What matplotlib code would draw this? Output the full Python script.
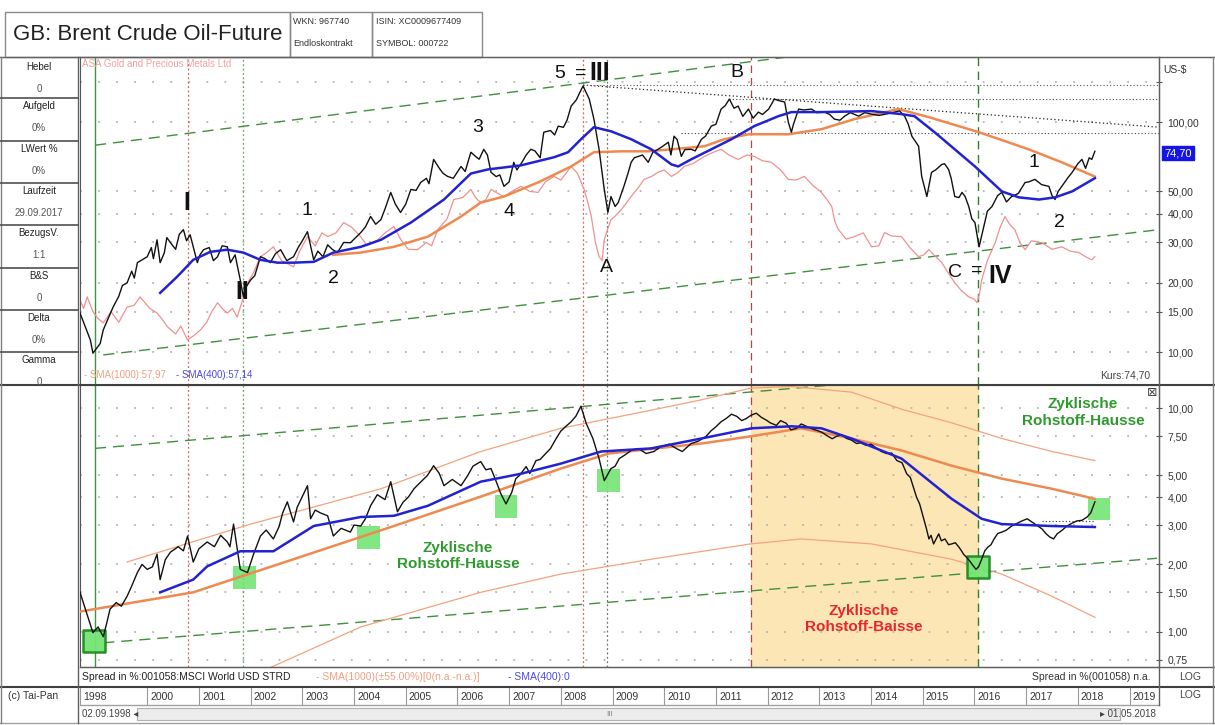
import matplotlib
matplotlib.use("Agg")
import matplotlib.pyplot as plt
from matplotlib.lines import Line2D
from matplotlib.patches import Rectangle
from matplotlib.ticker import NullLocator

plt.rcParams['font.family'] = ['Liberation Sans', 'DejaVu Sans']

# ---------------- data (decimal years) ----------------
# Brent, US-$ (main turning points)
brent_t = [1998.70, 1998.90, 1998.95, 1999.09, 1999.15, 1999.34, 1999.61, 1999.81, 2000.00, 2000.19,
           2000.25, 2000.45, 2000.70, 2000.83, 2000.97, 2001.09, 2001.36, 2001.55, 2001.61, 2001.80,
           2001.86, 2002.00, 2002.19, 2002.38, 2002.58, 2002.83, 2003.10, 2003.22, 2003.49, 2003.68,
           2003.93, 2004.13, 2004.32, 2004.52, 2004.71, 2004.90, 2005.10, 2005.29, 2005.54, 2005.81,
           2006.07, 2006.26, 2006.51, 2006.65, 2006.90, 2007.09, 2007.42, 2007.67, 2007.95, 2008.20,
           2008.43, 2008.55, 2008.64, 2008.74, 2008.84, 2008.91, 2008.97, 2009.11, 2009.22, 2009.36,
           2009.50, 2009.69, 2009.88, 2010.08, 2010.19, 2010.33, 2010.52, 2010.72, 2010.91, 2011.10,
           2011.26, 2011.43, 2011.63, 2011.82, 2012.02, 2012.13, 2012.33, 2012.46, 2012.60, 2012.85,
           2013.10, 2013.29, 2013.49, 2013.76, 2014.01, 2014.46, 2014.65, 2014.79, 2014.92, 2014.98,
           2015.08, 2015.17, 2015.37, 2015.50, 2015.62, 2015.76, 2015.89, 2016.01, 2016.09, 2016.20,
           2016.34, 2016.53, 2016.72, 2016.98, 2017.17, 2017.44, 2017.56, 2017.69, 2017.89, 2018.08,
           2018.27, 2018.33]
brent_v = [14.8, 11.3, 9.9, 10.9, 12.5, 15.7, 20.0, 24.5, 26.0, 30.8,
           24.5, 29.9, 34.1, 32.4, 24.5, 27.9, 26.0, 28.7, 24.5, 20.6,
           17.4, 20.6, 26.0, 24.5, 27.9, 26.0, 33.4, 25.2, 29.3, 27.1,
           29.9, 33.1, 38.9, 37.7, 49.5, 40.5, 51.0, 54.7, 68.9, 58.1,
           64.2, 74.0, 76.2, 60.5, 52.6, 66.9, 76.2, 90.4, 96.1, 117.5,
           143.6, 126.0, 103.1, 76.2, 51.0, 40.5, 47.5, 44.7, 52.6, 66.9,
           71.0, 66.9, 76.2, 81.8, 86.9, 71.0, 76.2, 84.3, 96.1, 114.0,
           126.0, 117.5, 114.0, 110.6, 114.0, 126.0, 122.3, 90.4, 114.0, 114.0,
           110.6, 103.1, 106.2, 106.2, 108.4, 110.6, 106.2, 86.9, 78.6, 58.1,
           47.5, 60.5, 65.5, 62.3, 47.5, 49.5, 43.0, 36.6, 28.7, 36.6,
           43.0, 49.5, 47.5, 54.7, 56.4, 52.6, 46.1, 52.6, 60.5, 68.9,
           68.9, 74.7]
# Brent, intermediate swings
brent_t2 = [1999.45, 1999.52, 1999.70, 1999.75, 2000.08, 2000.12, 2000.33, 2000.38, 2000.55, 2000.62,
            2000.76, 2001.02, 2001.20, 2001.28, 2001.45, 2001.70, 2001.90, 2002.08, 2002.28, 2002.48,
            2002.70, 2002.92, 2003.00, 2003.30, 2003.40, 2003.58, 2003.80, 2004.00, 2004.22, 2004.42,
            2004.60, 2004.80, 2005.00, 2005.20, 2005.40, 2005.45, 2005.65, 2005.72, 2005.92, 2006.15,
            2006.35, 2006.42, 2006.58, 2006.75, 2006.82, 2007.00, 2007.15, 2007.25, 2007.33, 2007.50,
            2007.60, 2007.80, 2007.88, 2008.05, 2008.12, 2008.30, 2008.37, 2009.05, 2009.30, 2009.42,
            2009.58, 2009.78, 2009.95, 2010.13, 2010.25, 2010.40, 2010.60, 2010.80, 2011.00, 2011.18,
            2011.35, 2011.52, 2011.72, 2011.90, 2012.22, 2012.40, 2012.50, 2012.70, 2012.95, 2013.20,
            2013.40, 2013.60, 2013.88, 2014.15, 2014.30, 2014.55, 2014.72, 2015.25, 2015.42, 2015.55,
            2015.70, 2015.82, 2015.95, 2016.25, 2016.45, 2016.62, 2016.85, 2017.05, 2017.30, 2017.50,
            2017.62, 2017.80, 2018.00, 2018.15, 2018.22]
brent_v2 = [17.5, 19.5, 22.5, 21.0, 28.5, 25.5, 27.0, 31.5, 28.0, 32.5,
            30.5, 26.5, 28.5, 25.0, 29.0, 26.5, 19.0, 21.5, 25.5, 26.8,
            25.0, 28.5, 30.5, 27.5, 26.0, 28.0, 30.0, 31.0, 35.0, 36.0,
            42.0, 44.0, 44.0, 50.5, 57.0, 54.0, 63.0, 60.0, 57.0, 61.0,
            71.0, 69.0, 72.0, 58.0, 59.0, 55.0, 62.0, 67.0, 72.0, 75.0,
            70.0, 92.0, 88.0, 95.0, 102.0, 125.0, 135.0, 43.0, 60.0, 70.0,
            72.0, 74.0, 78.0, 72.0, 84.0, 76.0, 75.0, 87.0, 98.0, 118.0,
            115.0, 106.0, 104.0, 108.0, 124.0, 100.0, 98.0, 113.0, 110.0, 108.0,
            102.0, 110.0, 110.0, 107.0, 108.5, 112.0, 98.0, 62.0, 66.0, 57.0,
            47.0, 47.5, 38.0, 41.0, 48.0, 45.0, 49.0, 55.0, 53.5, 48.0,
            50.0, 57.0, 66.0, 63.0, 70.0]

# ASA Gold and Precious Metals (comparison line)
asa_t = [1998.70, 1998.84, 1999.15, 1999.61, 1999.86, 2000.19, 2000.39, 2000.78, 2001.03, 2001.36,
         2001.55, 2001.74, 2001.94, 2002.19, 2002.44, 2002.83, 2003.10, 2003.49, 2003.80, 2004.13,
         2004.46, 2004.77, 2005.23, 2005.62, 2005.93, 2006.26, 2006.45, 2006.65, 2006.90, 2007.23,
         2007.56, 2007.87, 2008.20, 2008.45, 2008.59, 2008.74, 2008.84, 2008.97, 2009.17, 2009.36,
         2009.61, 2009.88, 2010.14, 2010.39, 2010.78, 2011.10, 2011.43, 2011.74, 2012.07, 2012.40,
         2012.71, 2013.04, 2013.24, 2013.37, 2013.68, 2014.01, 2014.26, 2014.59, 2014.92, 2015.12,
         2015.37, 2015.62, 2015.89, 2016.05, 2016.14, 2016.40, 2016.59, 2016.78, 2016.98, 2017.31,
         2017.69, 2018.02, 2018.27, 2018.33]
asa_v = [16.9, 17.4, 13.4, 15.7, 17.4, 14.8, 12.9, 11.3, 12.5, 16.4,
         14.8, 14.2, 20.0, 26.0, 28.7, 23.5, 31.8, 31.8, 36.6, 31.8,
         30.8, 35.2, 27.9, 34.1, 46.1, 51.0, 44.7, 51.0, 47.5, 52.6,
         49.5, 58.1, 64.2, 51.0, 38.9, 26.0, 30.8, 37.7, 41.7, 47.5,
         56.4, 60.5, 58.1, 64.2, 71.0, 76.2, 68.9, 71.0, 66.9, 56.4,
         58.1, 49.5, 43.0, 34.1, 31.8, 28.7, 33.1, 31.8, 26.0, 27.9,
         24.5, 20.0, 17.4, 16.4, 20.6, 29.9, 38.9, 34.1, 27.9, 29.9,
         28.7, 27.1, 25.2, 26.0]
asa_t2 = [1998.77, 1998.95, 1999.05, 1999.30, 1999.45, 1999.75, 2000.05, 2000.28, 2000.55, 2000.65,
          2000.90, 2001.15, 2001.25, 2001.45, 2001.65, 2001.85, 2002.05, 2002.30, 2002.60, 2002.95,
          2003.25, 2003.38, 2003.65, 2003.95, 2004.25, 2004.60, 2004.90, 2005.05, 2005.40, 2005.50,
          2005.80, 2006.10, 2006.35, 2006.55, 2006.78, 2007.05, 2007.40, 2007.70, 2008.00, 2008.32,
          2008.52, 2008.67, 2008.80, 2008.90, 2009.05, 2009.25, 2009.50, 2009.75, 2010.00, 2010.25,
          2010.55, 2010.95, 2011.25, 2011.60, 2011.90, 2012.25, 2012.55, 2012.88, 2013.15, 2013.30,
          2013.52, 2013.85, 2014.15, 2014.40, 2014.75, 2015.02, 2015.25, 2015.50, 2015.75, 2016.00,
          2016.10, 2016.25, 2016.50, 2016.68, 2016.88, 2017.10, 2017.50, 2017.85, 2018.15]
asa_v2 = [15.5, 15.0, 14.0, 15.0, 13.5, 16.0, 15.5, 14.0, 12.0, 13.0,
          11.8, 13.5, 15.0, 15.5, 15.5, 17.0, 22.0, 27.0, 25.0, 27.5,
          29.0, 33.0, 33.0, 35.0, 29.0, 33.0, 31.0, 28.0, 30.0, 29.0,
          38.0, 47.0, 47.0, 46.0, 49.0, 50.0, 50.0, 55.0, 56.0, 60.0,
          45.0, 30.0, 25.0, 34.0, 39.0, 44.0, 52.0, 58.0, 62.0, 60.0,
          66.0, 74.0, 72.0, 72.0, 68.0, 62.0, 56.0, 53.0, 46.0, 37.0,
          31.0, 33.0, 29.0, 32.0, 28.5, 26.5, 26.0, 22.0, 18.5, 17.0,
          18.0, 25.0, 35.0, 36.0, 30.0, 30.5, 28.0, 27.5, 26.0]

sma400_t = [2000.25, 2000.58, 2000.89, 2001.22, 2001.55, 2001.86, 2002.19, 2002.52, 2002.83, 2003.22,
            2003.60, 2004.13, 2004.52, 2005.10, 2005.74, 2006.26, 2006.59, 2007.23, 2007.87, 2008.14,
            2008.39, 2008.64, 2008.97, 2009.36, 2009.75, 2010.14, 2010.27, 2010.52, 2010.91, 2011.30,
            2011.74, 2012.21, 2012.46, 2013.04, 2014.01, 2014.59, 2014.84, 2015.23, 2015.62, 2016.01,
            2016.28, 2016.53, 2016.86, 2017.25, 2017.56, 2017.89, 2018.33]
sma400_v = [18.1, 21.3, 25.2, 27.3, 27.9, 27.1, 25.2, 24.5, 24.5, 24.7,
            27.1, 28.7, 30.8, 36.6, 46.1, 59.8, 62.3, 64.9, 70.4, 74.0,
            84.3, 95.1, 91.3, 84.3, 76.2, 65.5, 64.2, 68.9, 76.2, 84.3,
            96.1, 106.2, 110.6, 110.6, 111.7, 108.4, 106.2, 90.4, 76.2, 64.2,
            56.4, 50.0, 47.1, 46.1, 47.1, 50.0, 57.1]

sma1000_t = [2003.60, 2004.13, 2004.77, 2005.43, 2006.07, 2006.45, 2006.90, 2007.56, 2008.20, 2008.64,
             2009.17, 2009.69, 2010.14, 2010.78, 2011.16, 2011.63, 2012.40, 2013.04, 2013.68, 2014.53,
             2015.12, 2016.09, 2017.05, 2017.69, 2018.33]
sma1000_v = [26.5, 27.1, 28.7, 31.8, 38.9, 44.7, 47.5, 54.7, 64.2, 74.0,
             74.7, 74.7, 76.2, 78.6, 84.3, 88.6, 88.6, 93.2, 103.1, 114.0,
             105.1, 90.4, 76.2, 66.9, 58.0]

# Spread in % vs. MSCI World (lower panel)
spread_t = [1998.70, 1998.95, 1999.15, 1999.28, 1999.61, 1999.81, 2000.00, 2000.19, 2000.25, 2000.45,
            2000.78, 2000.89, 2001.16, 2001.55, 2001.67, 2001.80, 2001.94, 2002.19, 2002.44, 2002.71,
            2002.83, 2003.10, 2003.16, 2003.49, 2003.60, 2003.93, 2004.13, 2004.32, 2004.71, 2004.84,
            2005.16, 2005.54, 2005.74, 2006.07, 2006.45, 2006.65, 2006.84, 2006.94, 2007.13, 2007.33,
            2007.52, 2007.71, 2007.91, 2008.10, 2008.29, 2008.39, 2008.49, 2008.62, 2008.74, 2008.84,
            2008.97, 2009.13, 2009.36, 2009.65, 2009.94, 2010.23, 2010.52, 2010.81, 2011.01, 2011.20,
            2011.40, 2011.59, 2011.78, 2011.98, 2012.17, 2012.36, 2012.56, 2012.75, 2012.95, 2013.14,
            2013.33, 2013.53, 2013.72, 2013.91, 2014.11, 2014.30, 2014.50, 2014.69, 2014.83, 2014.94,
            2015.02, 2015.12, 2015.21, 2015.31, 2015.43, 2015.56, 2015.70, 2015.79, 2015.91, 2016.03,
            2016.14, 2016.26, 2016.38, 2016.53, 2016.72, 2016.92, 2017.11, 2017.31, 2017.46, 2017.60,
            2017.79, 2017.98, 2018.18, 2018.33]
spread_v = [1.50, 0.99, 0.95, 1.26, 1.44, 1.84, 1.90, 2.22, 1.71, 2.27,
            2.68, 2.05, 2.52, 2.52, 3.03, 1.90, 1.84, 2.68, 2.60, 3.81,
            3.10, 4.50, 3.20, 3.30, 2.68, 2.79, 2.97, 3.66, 4.69, 3.44,
            4.36, 5.53, 4.50, 4.50, 5.77, 5.37, 4.14, 3.73, 4.84, 5.48,
            5.83, 6.27, 7.32, 8.30, 9.20, 10.2, 8.56, 7.32, 5.95, 4.74,
            5.37, 5.95, 6.47, 6.27, 6.74, 6.61, 6.95, 7.48, 8.30, 9.00,
            9.20, 9.00, 9.50, 8.83, 8.38, 8.56, 8.13, 8.30, 7.96, 7.55,
            7.48, 7.32, 6.95, 6.81, 6.61, 6.27, 5.83, 5.09, 4.36, 3.73,
            3.20, 2.60, 2.47, 2.74, 2.60, 2.47, 2.39, 2.22, 2.07, 1.90,
            2.11, 2.39, 2.60, 2.79, 2.97, 3.13, 3.10, 2.88, 2.65, 2.74,
            2.97, 3.13, 3.26, 3.81]
spread_t2 = [1999.05, 1999.22, 1999.40, 1999.50, 1999.70, 1999.90, 2000.10, 2000.35, 2000.60, 2000.70,
             2001.00, 2001.30, 2001.42, 2001.60, 2002.05, 2002.30, 2002.55, 2002.62, 2002.90, 2003.25,
             2003.35, 2003.75, 2004.00, 2004.22, 2004.45, 2004.60, 2004.95, 2005.05, 2005.30, 2005.42,
             2005.65, 2005.90, 2006.20, 2006.30, 2006.55, 2006.75, 2007.05, 2007.20, 2007.40, 2007.60,
             2007.80, 2008.00, 2008.20, 2009.05, 2009.25, 2009.50, 2009.80, 2010.10, 2010.35, 2010.65,
             2010.90, 2011.10, 2011.30, 2011.50, 2011.68, 2011.88, 2012.05, 2012.25, 2012.45, 2012.65,
             2012.85, 2013.05, 2013.25, 2013.43, 2013.62, 2013.80, 2014.00, 2014.20, 2014.40, 2014.60,
             2014.76, 2014.88, 2015.07, 2015.16, 2015.26, 2015.36, 2015.50, 2015.63, 2015.75, 2015.85,
             2015.97, 2016.08, 2016.20, 2016.32, 2016.45, 2016.62, 2016.82, 2017.02, 2017.20, 2017.38,
             2017.53, 2017.70, 2017.88, 2018.08, 2018.25]
spread_v2 = [1.05, 1.10, 1.35, 1.30, 1.60, 2.00, 1.95, 2.10, 2.40, 2.30,
             2.35, 2.40, 2.70, 2.40, 2.20, 2.85, 2.95, 3.40, 3.60, 3.50,
             3.40, 2.90, 3.00, 3.20, 4.10, 3.90, 3.80, 4.00, 4.70, 5.00,
             5.10, 4.80, 5.00, 5.50, 5.30, 4.70, 4.20, 5.00, 5.10, 5.90,
             6.60, 7.90, 8.70, 5.50, 6.20, 6.60, 6.40, 6.90, 6.40, 7.10,
             7.90, 8.70, 9.40, 8.80, 9.30, 9.10, 8.60, 8.80, 8.00, 8.50,
             8.10, 7.80, 7.30, 7.60, 7.20, 7.00, 6.90, 6.40, 6.30, 5.70,
             4.90, 4.00, 2.90, 2.70, 2.60, 2.55, 2.45, 2.50, 2.30, 2.15,
             1.98, 1.95, 2.30, 2.45, 2.75, 2.85, 3.05, 3.20, 3.00, 2.75,
             2.60, 2.85, 3.05, 3.15, 3.40]

spr400_t = [2000.25, 2000.89, 2001.16, 2001.80, 2002.44, 2003.22, 2004.13, 2004.77, 2005.43, 2006.45,
            2007.23, 2008.00, 2008.78, 2009.75, 2010.72, 2011.69, 2012.46, 2013.04, 2013.62, 2014.59,
            2015.56, 2016.14, 2016.53, 2017.50, 2018.33]
spr400_v = [1.50, 1.71, 1.96, 2.29, 2.29, 2.97, 3.26, 3.30, 3.66, 4.69,
            5.09, 5.65, 6.40, 6.61, 7.32, 8.13, 8.30, 8.13, 7.32, 5.95,
            3.93, 3.20, 3.03, 2.97, 2.94]

spr1000_t = [1998.70, 2000.89, 2002.83, 2004.77, 2006.45, 2008.00, 2008.93, 2010.72, 2011.67, 2012.65,
             2013.62, 2014.59, 2015.56, 2016.53, 2017.50, 2018.33]
spr1000_v = [1.23, 1.50, 2.11, 2.97, 4.02, 5.37, 6.27, 6.95, 7.48, 8.13,
             7.32, 6.47, 5.53, 4.84, 4.36, 3.93]

band_hi_t = [1999.61, 2002.00, 2004.52, 2006.45, 2008.00, 2009.75, 2010.72, 2011.67, 2012.46, 2013.62,
             2014.59, 2015.56, 2016.53, 2017.50, 2018.33]
band_hi_v = [2.05, 3.03, 4.36, 6.40, 8.13, 9.80, 10.9, 12.3, 12.5, 11.8,
             9.90, 8.60, 7.32, 6.40, 5.83]
band_lo_t = [2002.19, 2004.13, 2006.45, 2008.00, 2009.75, 2011.67, 2012.65, 2014.01, 2015.56, 2016.53,
             2017.50, 2018.33]
band_lo_v = [0.66, 1.05, 1.50, 1.81, 2.11, 2.47, 2.60, 2.47, 2.11, 1.81,
             1.44, 1.16]

# trend channels (two points each)
top_up_t, top_up_v = [1998.99, 2013.00], [79.4, 200.0]
top_lo_t, top_lo_v = [1999.15, 2019.57], [9.73, 34.1]
bot_up_t, bot_up_v = [1998.99, 2013.50], [6.61, 12.85]
bot_lo_t, bot_lo_v = [1999.15, 2019.53], [0.892, 2.13]
res_slope_t, res_slope_v = [2008.43, 2019.57], [145.0, 95.1]
res_peak_t, res_peak_v = [2008.43, 2019.57], [145.0, 145.0]
res_b_t, res_b_v = [2011.26, 2019.57], [126.0, 126.0]
res_c_t, res_c_v = [2010.33, 2019.57], [89.5, 89.5]
spr_flat_t, spr_flat_v = [2017.30, 2018.33], [3.13, 3.13]

# turning points marked with green boxes (lower panel)
box_t = [1998.97, 2001.88, 2004.28, 2006.94, 2008.93, 2016.07, 2018.41]
box_v = [0.911, 1.75, 2.65, 3.62, 4.74, 1.94, 3.54]
box_framed = [True, False, False, False, False, True, False]

event_t = [1998.99, 2000.78, 2001.86, 2008.43, 2008.90, 2011.67, 2016.07]
baisse_span = [2011.67, 2016.07]

year_ticks = [1998.70] + list(range(2000, 2020))
year_labels = ['1998'] + [str(y) for y in range(2000, 2020)]

top_ticks = [10, 15, 20, 30, 40, 50, 100, 150]
top_labels = ['10,00', '15,00', '20,00', '30,00', '40,00', '50,00', '100,00', '']
bot_ticks = [0.75, 1, 1.5, 2, 3, 4, 5, 7.5, 10]
bot_labels = ['0,75', '1,00', '1,50', '2,00', '3,00', '4,00', '5,00', '7,50', '10,00']


def merged(t1, v1, t2, v2):
    pts = sorted(zip(list(t1) + list(t2), list(v1) + list(v2)))
    return [p[0] for p in pts], [p[1] for p in pts]


brent_x, brent_y = merged(brent_t, brent_v, brent_t2, brent_v2)
asa_x, asa_y = merged(asa_t, asa_v, asa_t2, asa_v2)
spread_x, spread_y = merged(spread_t, spread_v, spread_t2, spread_v2)

# ---------------- layout ----------------
W, H = 1215, 725
fig = plt.figure(figsize=(W / 100, H / 100), dpi=100)


def rect(x0, y0, x1, y1):
    return [x0 / W, 1 - y1 / H, (x1 - x0) / W, (y1 - y0) / H]


def hline(y, x0, x1, c='#707070', lw=1.0):
    fig.add_artist(Line2D([x0 / W, x1 / W], [1 - y / H, 1 - y / H], color=c, lw=lw))


def vline(x, y0, y1, c='#707070', lw=1.0):
    fig.add_artist(Line2D([x / W, x / W], [1 - y0 / H, 1 - y1 / H], color=c, lw=lw))


def ftext(x, y, s, **kw):
    return fig.text(x / W, 1 - y / H, s, **kw)


XMIN, XMAX = 1998.70, 2019.57
ax1 = fig.add_axes(rect(80, 57, 1159, 385))
ax2 = fig.add_axes(rect(80, 385, 1159, 667), sharex=ax1)
axy = fig.add_axes(rect(80, 687, 1159, 705), sharex=ax1)

GREEN_DASH = '#3f8f3f'
for ax, lo, hi in [(ax1, 7.2, 192), (ax2, 0.695, 12.7)]:
    ax.set_yscale('log')
    ax.set_ylim(lo, hi)
    ax.set_xlim(XMIN, XMAX)
    ax.yaxis.tick_right()
    ax.tick_params(axis='x', bottom=False, labelbottom=False)
    ax.tick_params(axis='y', direction='inout', length=4, labelsize=7.5,
                   labelcolor='#333333', color='#555555', pad=4)
    for s in ax.spines.values():
        s.set_color('#555555')
    ax.grid(axis='y', color='#b4b4b4', linestyle=(0, (1, 9)), lw=1.3)
    ax.set_axisbelow(True)
    # event lines
    ax.axvline(event_t[0], color='#3c963c', lw=1.0)
    ax.axvline(event_t[1], color='#e05a5a', lw=0.9, ls=(0, (1.5, 2)))
    ax.axvline(event_t[2], color='#6f9f6f', lw=0.9, ls=(0, (1.5, 2)))
    ax.axvline(event_t[3], color='#e05a5a', lw=0.9, ls=(0, (1.5, 2)))
    ax.axvline(event_t[4], color='#607860', lw=0.9, ls=(0, (1.5, 2)))
    ax.axvline(event_t[5], color='#c04040', lw=0.9, ls=(0, (6, 4)))
    ax.axvline(event_t[6], color='#2f7f2f', lw=1.0, ls=(0, (6, 4)))

ax1.set_yticks(top_ticks)
ax1.set_yticklabels(top_labels)
ax1.yaxis.set_minor_locator(NullLocator())
ax2.set_yticks(bot_ticks)
ax2.set_yticklabels(bot_labels)
ax2.yaxis.set_minor_locator(NullLocator())

# ---- top panel ----
ax1.plot(top_up_t, top_up_v, color=GREEN_DASH, lw=1.0, ls=(0, (8, 5)))
ax1.plot(top_lo_t, top_lo_v, color=GREEN_DASH, lw=1.0, ls=(0, (8, 5)))
ax1.plot(res_slope_t, res_slope_v, color='#222222', lw=0.9, ls=(0, (1, 2)))
ax1.plot(res_peak_t, res_peak_v, color='#555555', lw=0.8, ls=(0, (1, 2)))
ax1.plot(res_b_t, res_b_v, color='#444444', lw=0.8, ls=(0, (1, 2)))
ax1.plot(res_c_t, res_c_v, color='#444444', lw=0.8, ls=(0, (1, 2)))
ax1.plot(asa_x, asa_y, color='#f29090', lw=0.9, zorder=2)
ax1.plot(sma1000_t, sma1000_v, color='#ee8a50', lw=1.8, zorder=3)
ax1.plot(brent_x, brent_y, color='#111111', lw=1.0, zorder=4)
ax1.plot(sma400_t, sma400_v, color='#2222d0', lw=1.8, zorder=5)

big = dict(fontsize=18, fontweight='bold', ha='center', va='center', color='#111111', zorder=6)
mid = dict(fontsize=14, ha='center', va='center', color='#111111', zorder=6)
ax1.text(2000.76, 44.7, 'I', **big)
ax1.text(2001.84, 18.3, 'II', **big)
ax1.text(2003.08, 41.3, '1', **mid)
ax1.text(2003.60, 20.9, '2', **mid)
ax1.text(2006.40, 95.1, '3', **mid)
ax1.text(2007.00, 40.9, '4', **mid)
ax1.text(2007.97, 163.0, '5', **mid)
ax1.text(2008.38, 163.0, '=', **mid)
ax1.text(2008.76, 163.0, 'III', **big)
ax1.text(2008.88, 23.3, 'A', **mid)
ax1.text(2011.40, 165.0, 'B', **mid)
ax1.text(2017.15, 66.9, '1', **mid)
ax1.text(2017.64, 36.6, '2', **mid)
ax1.text(2015.62, 22.1, 'C', **mid)
ax1.text(2016.05, 22.8, '=', **mid)
ax1.text(2016.50, 21.5, 'IV', **big)

# ---- lower panel ----
ax2.axvspan(baisse_span[0], baisse_span[1], color='#fce6b6', zorder=0)
ax2.plot(bot_up_t, bot_up_v, color=GREEN_DASH, lw=1.0, ls=(0, (8, 5)))
ax2.plot(bot_lo_t, bot_lo_v, color=GREEN_DASH, lw=1.0, ls=(0, (8, 5)))
ax2.plot(band_hi_t, band_hi_v, color='#f4a27e', lw=0.9, zorder=2)
ax2.plot(band_lo_t, band_lo_v, color='#f4a27e', lw=0.9, zorder=2)
ax2.plot(spr_flat_t, spr_flat_v, color='#333333', lw=0.8, ls=(0, (1, 2)))
plain_t = [t for t, f in zip(box_t, box_framed) if not f]
plain_v = [v for v, f in zip(box_v, box_framed) if not f]
framed_t = [t for t, f in zip(box_t, box_framed) if f]
framed_v = [v for v, f in zip(box_v, box_framed) if f]
ax2.scatter(plain_t, plain_v, marker='s', s=270, facecolors='#74e474', edgecolors='none',
            alpha=0.9, zorder=2.5)
ax2.scatter(framed_t, framed_v, marker='s', s=250, facecolors='#74e474', edgecolors='#1f8a1f',
            linewidths=1.8, alpha=0.95, zorder=2.5)
ax2.plot(spr1000_t, spr1000_v, color='#ee8a50', lw=1.8, zorder=3)
ax2.plot(spread_x, spread_y, color='#111111', lw=1.0, zorder=4)
ax2.plot(spr400_t, spr400_v, color='#2222d0', lw=1.8, zorder=5)

zk = dict(fontsize=11, fontweight='bold', ha='center', va='center', linespacing=1.25, zorder=6)
ax2.text(2006.01, 2.18, 'Zyklische\nRohstoff-Hausse', color='#2e9a2e', **zk)
ax2.text(2018.10, 9.6, 'Zyklische\nRohstoff-Hausse', color='#2e9a2e', **zk)
ax2.text(2013.86, 1.14, 'Zyklische\nRohstoff-Baisse', color='#e8262a', **zk)

# ---- year row ----
axy.set_ylim(0, 1)
axy.set_yticks([])
axy.tick_params(axis='x', bottom=False, labelbottom=False)
for s in axy.spines.values():
    s.set_visible(False)
for t, lab in zip(year_ticks, year_labels):
    axy.axvline(t, color='#9a9a9a', lw=0.8)
    axy.text(t + 0.06, 0.45, lab, fontsize=7.5, va='center', ha='left', color='#333333')

# ---------------- frame, header, sidebars ----------------
hdr = '#8a8a8a'
for x0, x1 in [(5, 290), (290, 372), (372, 482)]:
    fig.add_artist(Rectangle((x0 / W, 1 - 57 / H), (x1 - x0) / W, 45 / H,
                             transform=fig.transFigure, fill=False, ec=hdr, lw=1.0))
ftext(13, 35, 'GB: Brent Crude Oil-Future', fontsize=16, va='center', color='#222222')
small = dict(fontsize=6.5, va='center', color='#333333')
ftext(293, 21, 'WKN: 967740', **small)
ftext(293, 44, 'Endloskontrakt', **small)
ftext(376, 21, 'ISIN: XC0009677409', **small)
ftext(376, 44, 'SYMBOL: 000722', **small)

hline(57, 0, 1215, c='#606060')
hline(385, 0, 1215, c='#404040', lw=1.5)
hline(667, 80, 1215, c='#606060')
hline(687, 0, 1215, c='#404040', lw=1.5)
hline(705, 80, 1159, c='#a0a0a0')
hline(723, 0, 1215, c='#a0a0a0')
vline(1, 57, 723, c='#808080')
vline(1213, 57, 723, c='#808080')
vline(78, 57, 723, c='#606060')
vline(1159, 57, 705, c='#606060')

side_rows = [59, 98, 141, 183, 225, 268, 310, 352]
side_lab = ['Hebel', 'Aufgeld', 'LWert %', 'Laufzeit', 'BezugsV.', 'B&S', 'Delta', 'Gamma']
side_val = ['0', '0%', '0%', '29.09.2017', '1:1', '0', '0%', '0']
for top, lab, val in zip(side_rows, side_lab, side_val):
    if top > 59:
        hline(top, 0, 78, c='#505050', lw=1.2)
    ftext(39, top + 8, lab, fontsize=7, ha='center', va='center', color='#222222')
    if top + 30 < 384:
        ftext(39, top + 30, val, fontsize=7, ha='center', va='center', color='#555555')

# right axis strip
ftext(1163, 70, 'US-$', fontsize=7.5, va='center', color='#333333')
ftext(1164, 153, '74,70', fontsize=8, va='center', color='white',
      bbox=dict(boxstyle='square,pad=0.2', fc='#1414e6', ec='#1414e6'))
ftext(1190, 677, 'LOG', fontsize=7.5, ha='center', va='center', color='#444444')
ftext(1190, 695, 'LOG', fontsize=7.5, ha='center', va='center', color='#444444')
ftext(1152, 393, '\u22a0', fontsize=9, ha='center', va='center', color='#444444')

# legends
ftext(82, 64, 'ASA Gold and Precious Metals Ltd', fontsize=7, va='center', color='#f4a0a0')
ftext(84, 375, '- SMA(1000):57,97', fontsize=7, va='center', color='#f0a080')
ftext(176, 375, '- SMA(400):57,14', fontsize=7, va='center', color='#4a4ae0')
ftext(1150, 375, 'Kurs:74,70', fontsize=7.5, ha='right', va='center', color='#444444')
ftext(82, 677, 'Spread in %:001058:MSCI World USD STRD', fontsize=7.5, va='center', color='#222222')
ftext(316, 677, '- SMA(1000)(\u00b155.00%)[0(n.a.-n.a.)]', fontsize=7.5, va='center', color='#f0a080')
ftext(508, 677, '- SMA(400):0', fontsize=7.5, va='center', color='#4a4ae0')
ftext(1150, 677, 'Spread in %(001058) n.a.', fontsize=7.5, ha='right', va='center', color='#333333')

# bottom rows
ftext(8, 696, '(c) Tai-Pan', fontsize=7.5, va='center', color='#333333')
ftext(82, 714, '02.09.1998 \u25c2', fontsize=7, va='center', color='#444444')
fig.add_artist(Rectangle((137 / W, 1 - 720 / H), (1120 - 137) / W, 12 / H,
                         transform=fig.transFigure, fc='#ececec', ec='#b0b0b0', lw=0.8))
ftext(610, 714, 'III', fontsize=6, ha='center', va='center', color='#888888')
ftext(1156, 714, '\u25b8 01.05.2018', fontsize=7, ha='right', va='center', color='#444444')

fig.savefig('out.png', dpi=100)
